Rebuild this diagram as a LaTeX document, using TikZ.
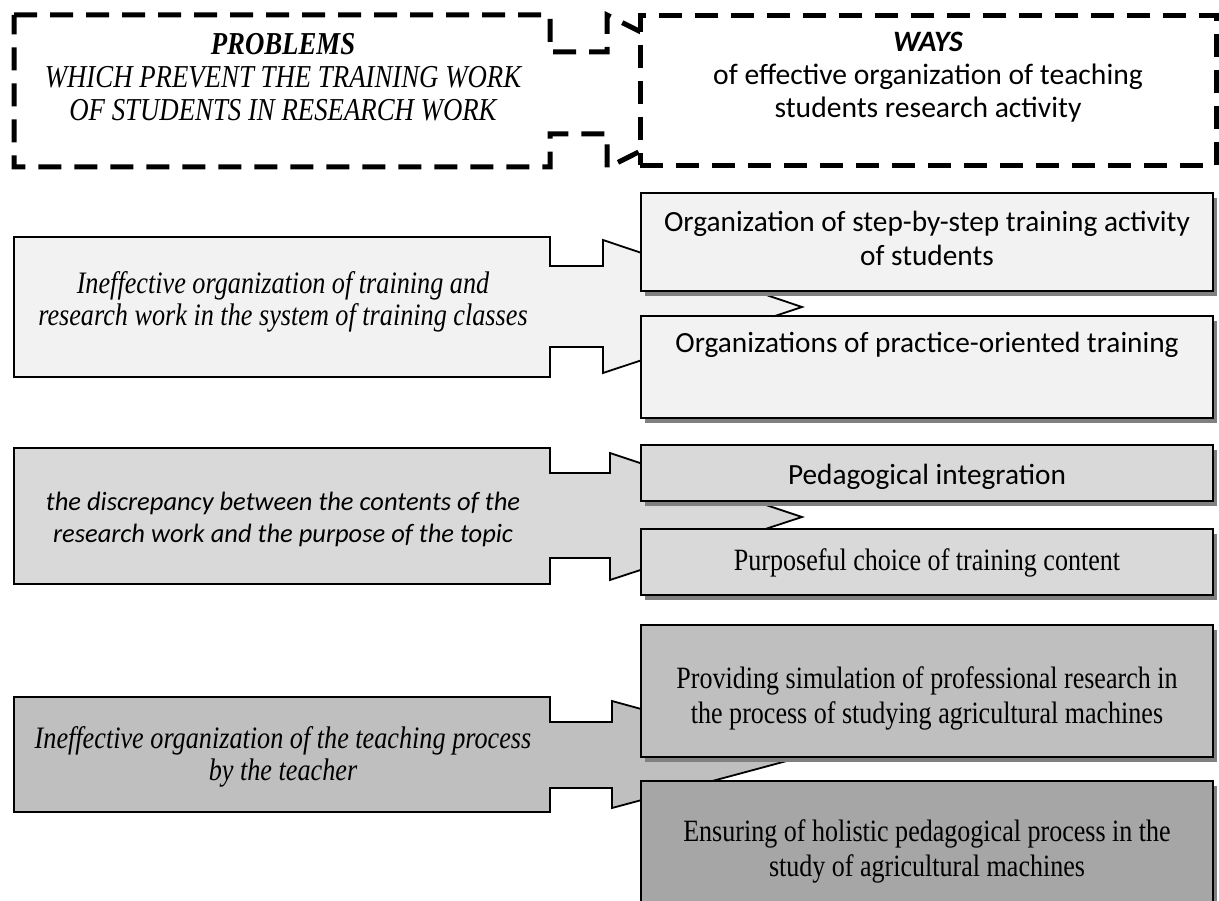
\documentclass[tikz,border=0pt]{standalone}
\usepackage{fontspec}
\setmainfont[FakeStretch=0.84]{Liberation Serif}
\newfontfamily\calibri{Carlito}
\usetikzlibrary{shadows}

\definecolor{rowA}{HTML}{F2F2F2}
\definecolor{rowB}{HTML}{D9D9D9}
\definecolor{rowC}{HTML}{BFBFBF}
\definecolor{rowD}{HTML}{A6A6A6}

\tikzset{
	headbox/.style={draw=black, fill=white, line width=5pt, dash pattern=on 23pt off 13pt},
	callout/.style={draw=black, line width=1.8pt, line join=miter},
	waybox/.style={draw=black, line width=1.8pt, minimum width=572pt, inner sep=0pt,
		drop shadow={shadow xshift=4pt, shadow yshift=-5pt, fill=black!50, opacity=1}},
	timestext/.style={align=center, font=\fontsize{31}{35}\selectfont},
	calibritext/.style={align=center, font=\calibri\fontsize{29.3}{34}\selectfont}
}

\begin{document}
\begin{tikzpicture}[x=1pt,y=-1pt]
	\clip (0,0) rectangle (1219,901);
	
	%HEADINGS
	\draw[headbox] (14,15)--(550,15)--(550,52)--(607,52)--(607,15)--(759,91)--(607,168)--(607,134)--(550,134)--(550,167)--(14,167)--cycle; %left callout
	\node[headbox, minimum width=576pt, minimum height=150pt] (waysbox) at (928,90.5) {};
	\node[timestext, font=\itshape\fontsize{31.9}{33}\selectfont] (problems) at (283,77) {{\bfseries PROBLEMS}\\WHICH PREVENT THE TRAINING WORK\\OF STUDENTS IN RESEARCH WORK};
	\node[calibritext, font=\calibri\fontsize{29.6}{33}\selectfont] (ways) at (928,77) {{\bfseries\itshape WAYS}\\of effective organization of teaching\\students research activity};
	
	%ROW 1
	\draw[callout, fill=rowA] (14,237)--(550,237)--(550,266)--(603,266)--(603,240)--(802,307)--(603,373)--(603,347)--(550,347)--(550,377)--(14,377)--cycle;
	\node[timestext, font=\itshape\fontsize{31.2}{32}\selectfont] (classes) at (283,302) {Ineffective organization of training and\\research work in the system of training classes};
	\node[waybox, fill=rowA, minimum height=98pt] (stepbox) at (927,242) {};
	\node[calibritext] (steptext) at (927,238) {Organization of step-by-step training activity\\of students};
	\node[waybox, fill=rowA, minimum height=102pt] (practicebox) at (927,367) {};
	\node[calibritext] (practicetext) at (927,345) {Organizations of practice-oriented training};
	
	%ROW 2
	\draw[callout, fill=rowB] (14,448)--(550,448)--(550,473)--(610,473)--(610,453)--(802,517)--(610,580)--(610,558)--(550,558)--(550,584)--(14,584)--cycle;
	\node[calibritext, font=\calibri\itshape\fontsize{26.5}{32}\selectfont] (topic) at (283,519) {the discrepancy between the contents of the\\research work and the purpose of the topic};
	\node[waybox, fill=rowB, minimum height=56pt] (integrationbox) at (927,473) {};
	\node[calibritext] (integrationtext) at (927,477) {Pedagogical integration};
	\node[waybox, fill=rowB, minimum height=66pt] (choicebox) at (927,562) {};
	\node[timestext] (choicetext) at (927,563) {Purposeful choice of training content};
	
	%ROW 3
	\draw[callout, fill=rowC] (14,697)--(550,697)--(550,722)--(612,722)--(612,701)--(809,755)--(612,808)--(612,788)--(550,788)--(550,812)--(14,812)--cycle;
	\node[timestext, font=\itshape\fontsize{31.2}{32}\selectfont] (teacher) at (283,757) {Ineffective organization of the teaching process\\by the teacher};
	\node[waybox, fill=rowC, minimum height=132pt] (simulationbox) at (927,691) {};
	\node[timestext] (simulationtext) at (927,698) {Providing simulation of professional research in\\the process of studying agricultural machines};
	\node[waybox, fill=rowD, minimum height=140pt] (holisticbox) at (927,851) {};
	\node[timestext] (holistictext) at (927,851) {Ensuring of holistic pedagogical process in the\\study of agricultural machines};
\end{tikzpicture}
\end{document}
